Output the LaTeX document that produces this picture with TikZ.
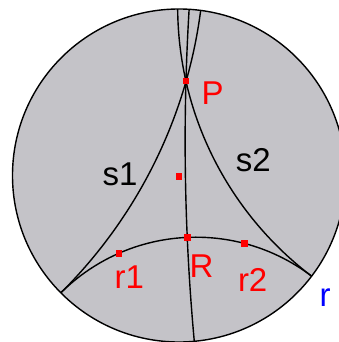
\documentclass[tikz,border=0pt]{standalone}
\usepackage{fontspec}
\setmainfont{Liberation Sans}
\definecolor{diskgray}{RGB}{196,195,200}
\tikzset{
  geo/.style={draw=black,line width=1.4pt},
  rim/.style={draw=black,line width=1.4pt},
  dot/.style={rectangle,fill=red,draw=none,inner sep=0pt,minimum size=6.5pt},
  lab/.style={anchor=base west,inner sep=0pt,font=\fontsize{33}{33}\selectfont}
}
\begin{document}
\begin{tikzpicture}[x=1pt,y=-1pt]
\useasboundingbox (0,0) rectangle (338,342);
\begin{scope}[shift={(179,175.5)},x=166.5pt,y=166.5pt]
  % hyperbolic plane (Poincare disk)
  \fill[diskgray] (0,0) circle (1);
  \begin{scope}
    \clip (0,0) circle (1);
    % line r
    \draw[geo] (0.10101,-1.52090) circle (1.15037);
    % s1 (limiting parallel through P)
    \draw[geo] (-2.7708,1.37128) circle (2.9254);
    % s2 (limiting parallel through P)
    \draw[geo] (2.0268,1.01628) circle (2.03487);
    % perpendicular from P to r
    \draw[geo] (12.9888,0.20514) circle (12.9519);
  \end{scope}
  \draw[rim] (0,0) circle (1);
  % points
  \node[dot] (P) at (0.0420,0.5676) {};
  \node[dot] (R) at (0.04983,-0.37165) {};
  \node[dot] (O) at (0,-0.006) {};
  \node[dot] (r1) at (-0.36121,-0.46747) {};
  \node[dot] (r2) at (0.39310,-0.40823) {};
\end{scope}
% labels
\node[lab,red] (lP) at (201.4,104.3) {P};
\node[lab,red] (lR) at (189.3,277) {R};
\node[lab] (ls1) at (102.3,185) {s1};
\node[lab] (ls2) at (235.7,171) {s2};
\node[lab,red] (lr1) at (114.5,288.5) {r1};
\node[lab,red] (lr2) at (237.8,291.7) {r2};
\node[lab,blue] (lr) at (319.5,306.7) {r};
\end{tikzpicture}
\end{document}
